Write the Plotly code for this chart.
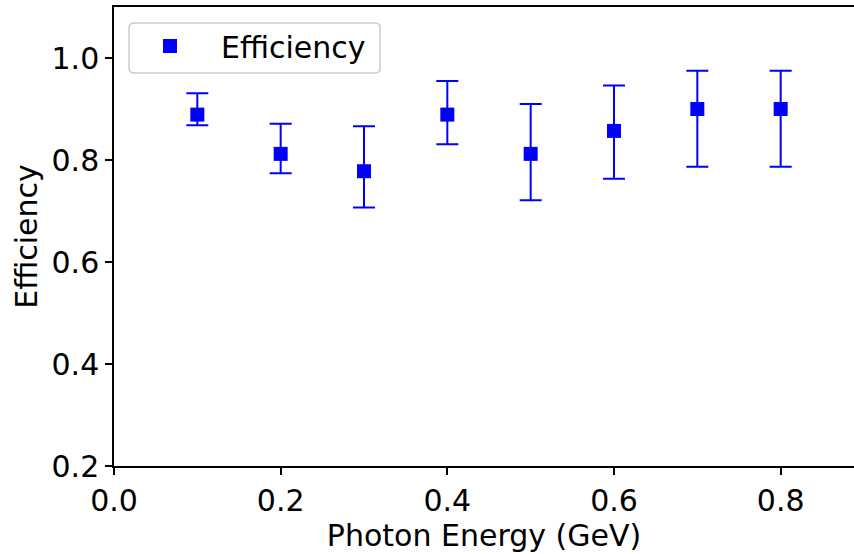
import plotly.graph_objects as go

energy = [0.1, 0.2, 0.3, 0.4, 0.5, 0.6, 0.7, 0.8]
efficiency = [0.889, 0.812, 0.778, 0.889, 0.812, 0.857, 0.900, 0.900]
err_upper = [0.042, 0.059, 0.088, 0.066, 0.098, 0.089, 0.075, 0.075]
err_lower = [0.021, 0.038, 0.071, 0.058, 0.091, 0.094, 0.113, 0.113]

x_ticks = [0.0, 0.2, 0.4, 0.6, 0.8]
x_ticklabels = ["0.0", "0.2", "0.4", "0.6", "0.8"]
y_ticks = [0.2, 0.4, 0.6, 0.8, 1.0]
y_ticklabels = ["0.2", "0.4", "0.6", "0.8", "1.0"]

FONT = "DejaVu Sans"
FS = 30
W, H = 854, 554
ML, MR, MT, MB = 114, 0, 7, 88
PW, PH = W - ML - MR, H - MT - MB

fig = go.Figure()
fig.add_trace(go.Scatter(
    x=energy, y=efficiency, mode="markers", name="Efficiency",
    marker=dict(symbol="square", size=14, color="#0000ff"),
    error_y=dict(type="data", symmetric=False, array=err_upper, arrayminus=err_lower,
                 color="#0000ff", thickness=2, width=11),
))

def px_x(p):
    return (p - ML) / PW

def px_y(p):
    return (H - MB - p) / PH

# rounded legend frame (matplotlib style)
x0, x1, y0, y1 = px_x(129), px_x(380), px_y(73), px_y(23)
rx, ry = 5 / PW, 5 / PH
path = (f"M {x0+rx},{y1} L {x1-rx},{y1} Q {x1},{y1} {x1},{y1-ry} "
        f"L {x1},{y0+ry} Q {x1},{y0} {x1-rx},{y0} "
        f"L {x0+rx},{y0} Q {x0},{y0} {x0},{y0+ry} "
        f"L {x0},{y1-ry} Q {x0},{y1} {x0+rx},{y1} Z")
fig.add_shape(type="path", path=path, xref="paper", yref="paper",
              line=dict(color="#cccccc", width=1.5), fillcolor="rgba(255,255,255,0.8)",
              layer="above")

fig.update_layout(
    width=W, height=H,
    margin=dict(l=ML, r=MR, t=MT, b=MB, pad=0),
    paper_bgcolor="white", plot_bgcolor="white",
    font=dict(family=FONT, size=FS, color="black"),
    showlegend=True,
    legend=dict(x=px_x(119), y=px_y(20), xanchor="left", yanchor="top",
                bgcolor="rgba(0,0,0,0)", borderwidth=0,
                font=dict(family=FONT, size=FS, color="black"),
                itemwidth=92),
    xaxis=dict(range=[0, 0.888], tickvals=x_ticks, ticktext=x_ticklabels,
               showgrid=False, zeroline=False, showline=True, mirror=True,
               linecolor="black", linewidth=1.5, ticks="outside", ticklen=7,
               tickwidth=1.5, tickcolor="black",
               title=dict(text="Photon Energy (GeV)", font=dict(family=FONT, size=FS), standoff=3)),
    yaxis=dict(range=[0.2, 1.1], tickvals=y_ticks, ticktext=y_ticklabels,
               showgrid=False, zeroline=False, showline=True, mirror=False,
               linecolor="black", linewidth=1.5, ticks="outside", ticklen=7,
               tickwidth=1.5, tickcolor="black",
               title=dict(text="Efficiency", font=dict(family=FONT, size=FS), standoff=5)),
)

fig.write_html("out.html")
